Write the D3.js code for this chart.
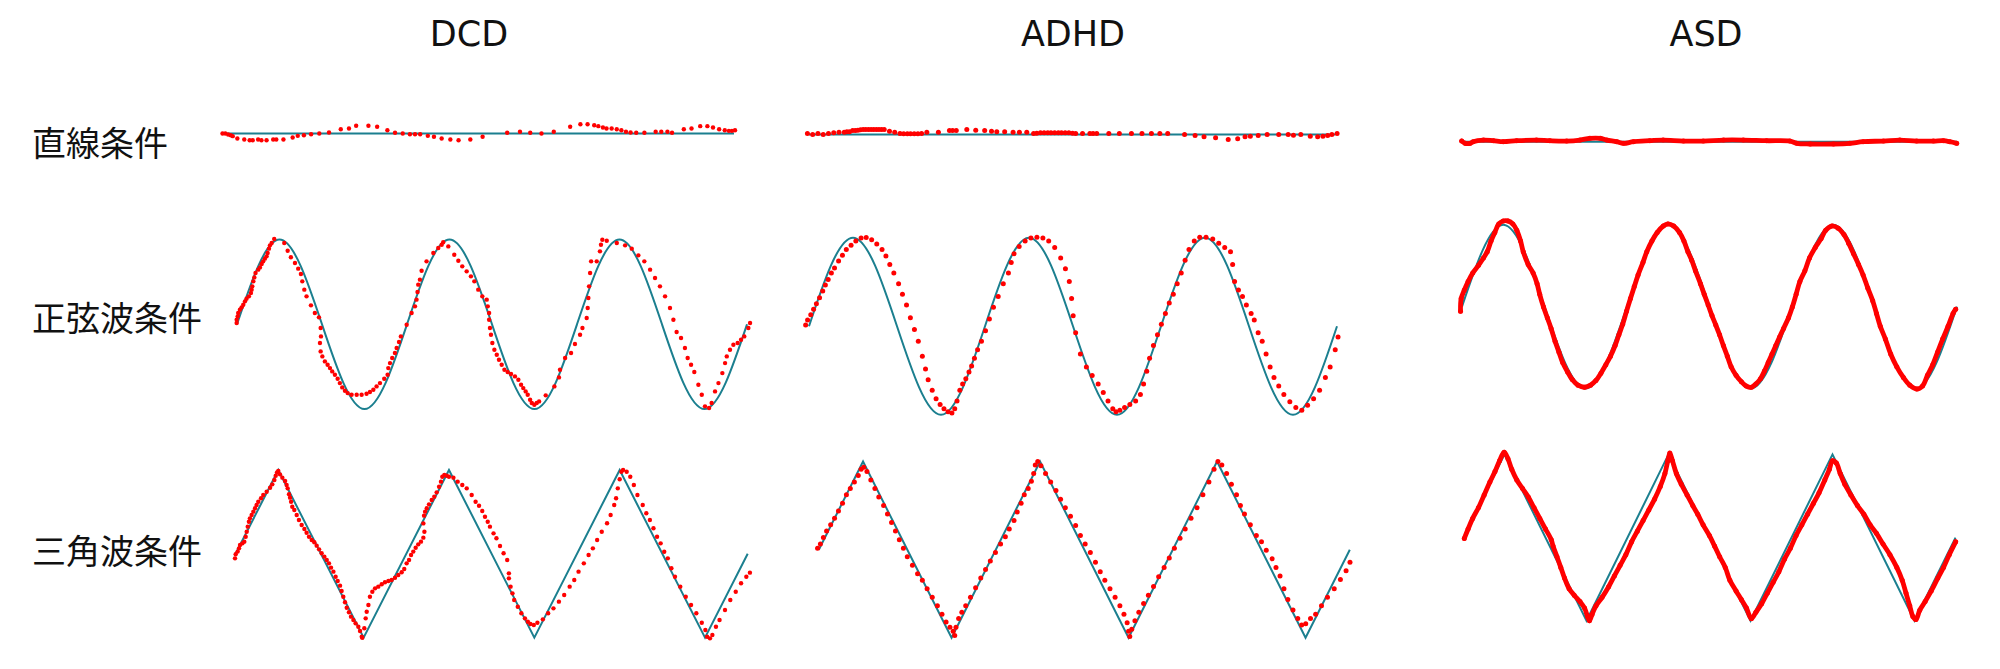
<!DOCTYPE html>
<html><head><meta charset="utf-8">
<script src="https://cdn.jsdelivr.net/npm/d3@7"></script>
<style>html,body{margin:0;padding:0;background:#fff;}svg{display:block;}</style>
</head><body>
<svg id="chart" width="2000" height="669"></svg>
<script>
// ---------- categories ----------
const groups = ["DCD", "ADHD", "ASD"];
const conditions = ["直線条件", "正弦波条件", "三角波条件"];
const conditionKeys = ["line", "sine", "tri"];

// ---------- reference stimuli (key points: x in % of period*100, y in % amplitude) ----------
const lineRef = [[0, 0], [100, 0]];
const sineRef = [[0,0],[25,100],[50,0],[75,-100],[100,0],[125,100],[150,0],[175,-100],[200,0],[225,100],[250,0],[275,-100],[300,0]];
const triRef = [[0,0],[25,100],[75,-100],[125,100],[175,-100],[225,100],[275,-100],[300,0]];

// ---------- traced responses ----------
const dcdLine = [[0.1,0],[0.65,0],[1.2,-1.2],[1.7,-2],[2.1,-3.1],[3,-5.9],[4.35,-7.1],[5.4,-7.9],[6,-7.9],[7.05,-7.1],[7.7,-7.9],[8.7,-7.9],[10,-7.1],[10.6,-7.1],[12,-7.1],[13.8,-4.7],[14.8,-2.8],[16,-2],[17.4,-0.8],[19,0],[20.9,1.2],[23.2,5.1],[24.8,5.9],[26.2,9.1],[28.6,9.1],[30.3,7.9],[32.3,3.9],[33.8,0.8],[35.3,0],[36.7,-0.8],[37.7,-0.8],[38.7,-0.8],[40.2,-2.8],[41.4,-3.9],[42.9,-5.9],[44.6,-7.1],[46.2,-7.9],[48.5,-7.1],[50.9,-3.9],[55.7,0.8],[58.2,2],[60.2,0.8],[62.4,0],[64.8,2],[68,7.9],[70,11],[71.4,11],[72.7,9.8],[73.5,8.7],[74.4,7.1],[75.1,5.9],[76.1,5.9],[77.1,5.1],[78,3.9],[78.9,2],[79.8,1.2],[80.9,0.8],[82.5,0.8],[84.7,2],[85.8,2],[87,2],[87.9,0.8],[90.2,5.1],[91.7,5.9],[93.4,8.7],[94.8,8.7],[95.9,7.1],[97.1,5.1],[98.2,3.9],[99,3.1],[99.6,3.1],[100.2,3.9]];

const dcdSine = [[-0.2,1.5],[-0.2,5.4],[0.4,9.4],[0.7,13.3],[1.7,17.2],[2.7,20],[3.7,23.1],[4.7,27.1],[5.6,30.2],[7,33],[8.2,36.9],[8.6,40.9],[9,44.8],[9.6,50.7],[10.2,55.4],[10.9,60.6],[12.5,64.5],[13.5,67.2],[14.5,71.2],[15.4,74.3],[16.4,77.5],[17.4,80.2],[18,84.2],[18.8,89.3],[19.4,93.2],[20.4,96],[21.9,100.7],
[27.8,96],[29.8,86.9],[31.7,79.1],[34.1,72.4],[36,65.7],[37.6,59.4],[38.4,50.7],[39.6,40.9],[40.9,33],[43.5,22.4],[45.8,13.3],[48.2,8.2],[49.2,-4.4],[49.4,-14.3],[48.8,-22.1],[49.2,-32],[50.2,-37.9],[51.7,-43.8],[53.3,-47.7],[54.7,-51.7],[56,-55.6],[57.6,-59.5],[59.2,-64.2],[60.5,-69.4],[61.9,-74.5],[63.5,-78.4],[65.1,-81.2],[67.4,-83.2],[70.4,-83.2],[73.3,-83.2],[76.2,-82],[78.2,-80],[80.2,-77.2],[82.1,-73.3],[84.1,-69.4],[86.6,-64.2],[88.6,-59.5],[89,-51.7],[90,-45.8],[91.3,-39.8],[92.9,-33.9],[93.9,-28],[95.3,-20.9],[96.4,-14.3],[99.8,-0.5],[102.7,13.3],[104.7,21.2],[105.6,29.1],[106.2,38.1],[106.6,46.8],[107.6,52.7],[108.6,63.3],[111.5,74.3],[115.5,84.2],[118.4,90.1],[120.4,94],[121.3,96.8],[124.3,92],[127.8,82.2],[130.2,75.1],[132.5,68.4],[135.1,62.5],[137.6,56.6],[139.6,50.7],[141.9,40.9],[144.3,33],
[146.9,29.1],[147.5,21.2],[148.3,13.3],[148.3,5.4],[148.8,-4.4],[149.4,-12.3],[150.2,-22.1],[151.4,-30],[152.8,-35.9],[154.1,-41.8],[155.7,-47.7],[157.3,-53.6],[159.2,-56.4],[161.2,-58.7],[163.5,-61.5],[165.5,-65.4],[167.1,-71.3],[168.4,-75.3],[169.8,-79.2],[171,-83.2],[172.4,-89.1],[173.4,-93],[174.9,-95],[176.3,-93],[177.7,-91],[181.6,-83.9],[186.7,-73.3],[189.4,-62.7],[190,-53.6],[193,-39.8],[196.5,-33.9],[198.8,-23.3],[201.8,-12.3],[203.2,-4.4],[205.7,7.4],[206.3,19.2],[206.7,31],[207.1,44.8],[207.7,60.6],[208.3,74.3],[211.6,74.3],[213.5,86.1],[214.1,94],[214.9,99.9],[217.5,98.7],[223.4,96],[228.3,93.2],[232.2,89.3],[236.1,81.4],[239.6,74.3],[243,64.5],[245.9,54.6],[248.8,44.8],[251.8,33],[254.7,19.2],[256.7,5.4],[258.6,-9.1],[261.2,-16.2],[263.5,-28],[265.1,-39.8],[267.1,-47.7],[269,-56.4],[271.4,-71.3],[273.4,-83.2],[275.3,-96.9],[277.7,-98.9],[279.2,-93],[281.2,-79.2],[283.2,-69.4],[285.5,-57.6],[287.1,-45.8],[288.1,-37.9],[290,-30],[292,-24.1],[294.5,-22.1],[296.5,-18.2],[298.4,-14.3],[300.8,-4.4],[301.8,1.5]];

const dcdTri = [[-0.35,-5.4],[0.04,-0.6],[1.2,2.6],[2,6.5],[2.6,10.5],[4,12.5],[5.1,14.5],[5.9,20.4],[6.5,26.4],[7.1,32.4],[7.8,38.3],[8.4,42.3],[9.4,46.3],[10.4,50.3],[11.4,54.3],[12.3,58.2],[13.3,62.2],[14.9,66.2],[16.2,70.2],[18.2,74.1],[20.2,78.9],[21.5,82.9],[22.7,88.1],[23.5,93.2],[24.3,97.2],[25,98.8],[26,94.8],[27.4,90.9],[29,86.9],[29.9,82.1],[30.5,78.1],[31.3,71],[31.9,67],[32.5,62.2],[33.2,56.2],[34.4,52.3],[35.8,46.3],[37.1,40.3],[38.7,34.4],[40.3,29.6],[41.6,25.2],[43,20.4],[44.6,16.5],[46.1,13.7],[47.5,9.7],[48.9,5.3],[50.4,0.6],[52,-3.4],[53.4,-7.4],[54.7,-11.4],[55.9,-16.5],[57.3,-21.3],[58.6,-27.3],[59.8,-32.5],[61.2,-38],[62.1,-44.4],[63.1,-51.2],[64.1,-57.9],[65.1,-64.3],[66.4,-69.8],[67.6,-75],[69,-79],[70.3,-83],[71.9,-87],[72.9,-92.1],[73.9,-98.9],[74.2,-100.1],[75.4,-88.9],[76.2,-77],[76.8,-69.1],[77.8,-61.1],[78.7,-51.2],[80.1,-45.2],[81.7,-41.2],[83.6,-39.2],[85.6,-36.4],[87.5,-34],[89.5,-32.5],[91.4,-31.3],[93.4,-28.5],[95.3,-25.3],[97.3,-22.1],[98.8,-18.1],[100.2,-11.4],[101.6,-7.4],[102.8,-1.4],[104.1,2.6],[105.5,7.3],[107,11.3],[108.6,14.5],[110,19.3],[110.6,26.4],[110,36.3],[110.4,45.5],[111,50.3],[112,54.3],[113.3,59],[114.9,64.2],[116.4,68.2],[117.8,73.3],[119.2,80.1],[120.3,86.1],[121.1,92],[122.3,94],[123.7,93.2],[125,92],[127.6,90.9],[130.1,86.1],[132.8,82.1],[135.4,78.1],[138.3,70.2],[140.6,62.2],[142.6,57.4],[144.5,51.1],[146.1,44.3],[147.7,38.3],[149,32.4],
[151.1,24.4],[152.8,18.5],[154.9,9.3],[157,0.6],[159.1,-7.4],[160.1,-23.3],[160.1,-29.3],[161.1,-39.2],[162.2,-47.2],[163.2,-55.1],[165.3,-63.1],[167.4,-71],[169.5,-77],[171.2,-81],[172.7,-83.8],[174.7,-85],[176.8,-82.2],[180,-78.2],[183.1,-71],[186.2,-65.1],[189.4,-57.1],[192.5,-49.2],[195.7,-39.2],[198.4,-31.3],[200.9,-21.3],[204,-11.4],[206.8,-1.4],[209.3,6.5],[211.8,16.5],[214.5,26.4],[217.6,36.4],[219.7,46.3],[221.8,58.2],[222.9,66.2],[223.9,78.1],[225,88.9],[226,98],[227,100],[229.1,98],[231.2,92],[233.3,82.1],[235.4,70.2],[238.5,58.2],[240.6,48.3],[242.7,40.3],[244.8,30.4],[246.9,20.4],[249,12.5],[251.1,2.5],[253.2,-5.4],[255.3,-17.3],[257.4,-27.3],[260.5,-39.2],[263.7,-51.2],[266.8,-61.1],[269.9,-71],[273.1,-82.2],[275.2,-90.9],[276.2,-98.9],[277.9,-100.9],[279.3,-96.9],[281.4,-87],[283.5,-79],[286.7,-67.1],[289.8,-55.1],[293,-45.2],[296.1,-35.2],[299.2,-27.3],[301.3,-22.5]];

const adhdLine = [[-0.3,1.1],[0.7,0],[1.7,1.1],[2.7,0],[3.7,1.1],[4.7,1.9],[5.7,2.6],[6.7,2.6],[7.2,3],[7.7,3],[8.3,4.5],[8.8,4.5],[9.3,4.9],[9.8,5.3],[10.3,5.6],[10.8,5.6],[11.3,5.6],[11.8,5.6],[12.3,5.6],[12.8,5.6],[13.3,5.6],[13.8,5.6],[14.3,5.6],[15.3,3.8],[16.3,2.6],[17.3,1.1],[18,0.8],[18.7,0.8],[19.3,0.8],[20,0.8],[20.7,0.8],[21.4,1.1],[22.4,2.6],[24.6,2.6],[26.7,4.5],[27.3,4.5],[28,4.5],[30,5.6],[31.7,4.9],[33.4,4.5],[34.7,3.8],[35.7,3],[37.2,3],[38.8,2.6],[40,2.6],[41.4,2.6],[42.7,1.1],[43.3,1.5],[44,1.9],[44.7,1.9],[45.4,1.9],[46,1.9],[46.7,1.9],[47.4,1.9],[48,1.9],[48.7,1.9],[49.4,1.9],[50.1,1.5],[50.7,1.1],[52,1.1],[53.4,1.1],[54,1.1],[54.7,1.1],[57,1.1],[59,1.1],[61.3,1.1],[63.3,1.1],[65.1,1.1],[66.7,1.1],[68.2,1.1],[71.4,0],[73.4,-1.1],[75.1,-2.6],[77.3,-3.8],[79.7,-5.6],[81.5,-4.9],[82.9,-2.6],[83.9,-1.9],[85.4,-1.1],[87.1,0],[89.3,0],[91.1,0],[92.1,-0.8],[93.5,0],[95.3,-1.9],[96.7,-2.6],[97.7,-1.9],[98.6,-1.1],[99.4,0],[100.4,1.1]];

const adhdSine = [[-1.9,1.3],[-0.8,7],[1,12.8],[2.6,19.1],[4.2,25.4],[6,32.1],[7.8,39.9],[9.3,46.6],[10.9,52.8],[12.7,60.1],[14.5,65.9],[16.8,73.6],[19,80.3],[21.2,86.6],[23.9,91.4],[26.6,96.2],[29.6,99.6],[32.5,100.1],[35.6,97.7],[38.5,92.9],[41.5,86.6],[43.7,79.4],[45.9,69.7],[48.2,60.1],[50.9,48],[53.1,36],[55.4,23.9],[57.6,9.5],[59.9,-3.6],[62.1,-17.1],[64.4,-33.9],[66.2,-48.4],[67.7,-60.4],[70,-72.5],[72.2,-82.1],[74.5,-88.4],[76.7,-93.2],[79,-96.6],[81.2,-98],[82.8,-93.2],[84.1,-84.6],[85.7,-72.5],[87.3,-65.3],[89.1,-59.5],[90.9,-51.8],[92.4,-45],[94,-36.3],[95.8,-26.7],[98,-17.1],[100.3,-5],[102.5,8],[104.8,21.5],[107.5,33.6],[110.4,48],[113.3,60.1],[114.9,72.1],[116.5,81.8],[119.4,90],[122.8,96.2],[126.1,99.6],[129.5,100.6],[132.9,99.6],[136.2,96.2],[139.6,89],[143,77],[145.7,64.9],[147.9,50.4],[149.2,31.2],[150.1,11.9],[151.5,-7.4],[154.2,-31.5],[157.6,-46],[160.9,-55.6],[164.3,-65.3],[167.2,-74.9],[169.9,-84.6],[172.6,-93.2],[174.4,-96.6],[176.6,-95.1],[179.3,-91.8],[182.3,-88.4],[185.6,-84.6],[188.3,-77.3],[190.1,-65.3],[191.9,-50.8],[193.5,-36.3],[195.7,-21.9],[198,-9.8],[200.2,2.2],[202.5,14.3],[204.7,26.3],[207,36],[209.2,48],[211.5,60.1],[213.7,74.5],[215.9,86.6],[218.9,96.2],[222,100.6],[225.6,100.6],[229.4,98.6],[232.8,93.8],[236.2,89],[239.5,84.2],[240.7,69.7],[241.8,50.4],[244,40.8],[246.3,33.6],[248.5,23.9],[251.2,14.3],[253,7],[255.2,-7.4],[257.5,-17.1],[259.7,-31.5],[262,-46],[264.2,-58],[266.9,-67.7],[269.8,-77.3],[273.2,-85.5],[276.6,-91.8],[280,-95.1],[283.3,-89.4],[286.7,-82.1],[290.1,-72.5],[293.4,-58],[296.1,-46],[299,-26.7],[300.6,-12.2]];

const adhdTri = [[-0.7,1.7],[0.9,6.6],[2.6,13.8],[4.4,21.1],[6.7,28.4],[8.9,35.6],[11.1,43.9],[13.4,52.6],[15.6,62.3],[17.8,69.5],[20.1,76.8],[22.3,84.1],[23.9,91.3],[25.4,93.7],[27.2,88.9],[29.4,79.2],[31.7,69.5],[33.9,59.8],[36.6,50.2],[38.8,40.5],[41.1,30.8],[43.3,21.1],[45.5,11.4],[47.8,1.7],[50,-8],[52.9,-17.6],[55.8,-27.3],[58.5,-34.6],[61.2,-44.3],[64.1,-54],[67,-63.7],[69.6,-73.3],[71.9,-82.1],[74.1,-87.9],[75.9,-92.7],[76.8,-97.5],[77.5,-87.9],[79,-78.2],[80.8,-70.9],[83,-63.7],[85.7,-54],[88.6,-43.3],[91.5,-32.2],[94.2,-22.5],[96.9,-12.8],[99.8,-3.1],[102.7,6.6],[105.4,14.8],[107.6,23.5],[110.3,33.2],[112.1,42.9],[114.3,52.6],[116.1,62.3],[118.3,69.5],[120.1,77.7],[121.4,86.5],[122.3,96.1],[123.7,100],[125.5,95.2],[128.1,86.5],[131,76.8],[134,67.1],[136.6,57.4],[139.3,47.7],[142.2,38],[145.1,27.4],[147.8,16.2],[150.5,6.6],[153.4,-3.1],[156.3,-14.3],[159,-24.9],[161.6,-34.6],[164.5,-44.3],[167.4,-54],[170.1,-63.7],[172.4,-73.3],[174.2,-83],[175,-92.7],[175.7,-98.5],[176.8,-90.3],[178.6,-80.6],[180.8,-70.9],[183.5,-61.2],[186.2,-51.6],[189.1,-41.9],[192,-30.7],[195.1,-20.1],[198,-9.4],[200.9,1.7],[204.1,12.9],[207,23.5],[210.3,35.6],[213.7,47.7],[217,62.3],[220.4,76.8],[223.3,91.3],[225.5,100],[227.7,96.1],[230.4,86.5],[233.1,74.4],[236,62.3],[238.2,50.2],[240.5,40.5],[243.8,28.4],[247.2,16.2],[250.1,9],[252.8,-0.7],[256.1,-10.4],[258.3,-20.1],[260.6,-29.8],[262.8,-44.3],[265,-56.4],[267.9,-68.5],[270.6,-78.2],[272.8,-85.5],[275.1,-84],[277.8,-78.2],[280.7,-73.3],[284,-63.7],[287.4,-54],[291.2,-44.3],[294.7,-33.7],[297.9,-24],[300.1,-14.3]];

const asdLine = [[0,0.8],[0.7,-2],[1.7,-2],[2.3,0],[4.4,2],[6.4,1.2],[8.4,0],[11.1,1.2],[15.1,2],[17.8,1.2],[21.2,0.8],[23.9,2],[25.9,4.1],[28,4.1],[29.3,2],[31.3,0],[32.7,-2],[34.7,0],[38,1.2],[40.7,2],[44.8,0.8],[48.8,0.8],[52.9,2],[56.9,2],[61.6,1.2],[66.3,0.8],[67.7,-2],[70.4,-2.8],[75.1,-2.8],[78.4,-2],[81.1,0],[85.2,0.8],[88.5,2],[91.9,0.8],[95.3,0.8],[97.3,1.2],[98.6,0],[100,-2]];

const asdSine = [[-0.9,-5.8],[-0.5,9.8],[1.4,20.2],[3.7,30.7],[6.5,41],[10,50.4],[13,59.3],[15.3,67.1],[17.6,80.1],[19.9,90.5],[22.3,101],[25,104.6],[27.8,104.6],[30.8,101],[33.2,93.1],[35.5,80.1],[37.1,67.1],[40.1,51.5],[43.1,41],[45.5,28],[47.1,15],[49.4,-0.6],[51.7,-13.6],[54,-26.6],[56.4,-42.3],[58.7,-55.3],[61,-68.3],[64,-79.8],[66.8,-89.1],[70.3,-95.9],[74.2,-98.5],[77.9,-95.9],[81.2,-90.2],[84.2,-81.3],[87.2,-70.9],[90,-60.5],[92.8,-47.5],[95.1,-34.4],[97.4,-21.4],[99.7,-5.8],[102.1,9.8],[104.4,24.4],[106.7,38.5],[109.7,54.1],[112,67.1],[115.1,80.1],[118.3,90.5],[122,98.4],[124.8,101],[128.3,98.4],[131.8,90.5],[134.5,80.1],[136.9,67.1],[139.2,56.7],[141.5,43.7],[144.5,28],[146.8,15],[149.2,2],[151.5,-11],[153.8,-22.5],[156.1,-34.4],[158.4,-47.5],[160.8,-60.5],[163.1,-73.5],[166.1,-83.9],[169.3,-91.7],[172.3,-97],[175.4,-98.5],[178.1,-94.4],[180.9,-88.1],[183.3,-78.7],[185.6,-68.3],[187.9,-57.9],[190.2,-47.5],[192.5,-37.1],[194.9,-26.6],[197.9,-13.6],[200.2,-0.6],[202.5,15],[204.8,30.7],[207.8,43.7],[210.6,59.3],[214.1,72.3],[217.6,82.7],[220.4,93.1],[224.1,98.4],[228,95.8],[231.5,87.9],[234.3,77.5],[237.3,64.5],[240.3,51.5],[243.1,38.5],[245.9,22.8],[248.9,7.2],[251.2,-8.4],[253.5,-24],[256.6,-39.7],[259.8,-57.9],[263.5,-73.5],[267.5,-86.5],[271.4,-95.9],[275.6,-100.6],[279.1,-97],[282.1,-83.9],[285.3,-70.9],[288.3,-55.3],[291.3,-39.7],[294.6,-24],[297.6,-8.4],[299.2,-3.2]];

const asdTri = [[0.5,-1],[2.8,10.3],[5.6,23.1],[9.1,35.9],[12.6,51.3],[16.1,66.8],[19.2,79.5],[22,92.4],[24.8,102.6],[27.1,94.9],[29.4,82.1],[32.5,69.3],[36,59],[39.5,48.8],[43,35.9],[46.5,23.1],[50,10.3],[53.5,-2.5],[54.6,-10.2],[57,-23],[59.3,-35.8],[61.6,-48.7],[64.4,-61.5],[67.5,-69.2],[71,-76.9],[73.8,-84.6],[75.6,-94.8],[76.8,-100],[78.4,-92.3],[80.8,-82],[84.5,-71.8],[88.5,-59],[92,-46.1],[95.5,-33.3],[99,-20.5],[102.5,-5.1],[106,7.7],[109.5,20.5],[113,33.3],[116.5,46.2],[120,61.5],[122.8,76.9],[124.6,92.4],[125.8,101.6],[127.4,92.4],[129.8,76.9],[132.8,64.1],[136.3,51.3],[139.8,38.5],[142.8,28.2],[146.1,15.4],[149.9,2.6],[153.1,-10.2],[156.2,-23],[159.6,-35.8],[162.4,-51.3],[166.2,-64.1],[169.4,-74.3],[172.5,-84.6],[175.5,-97.4],[178.3,-89.7],[181.8,-79.5],[185.3,-66.6],[188.8,-53.8],[192.3,-41],[195.8,-25.6],[199.3,-12.8],[202.8,2.6],[206.3,15.4],[209.8,28.2],[213.3,41],[216.8,53.8],[220.3,69.3],[223.1,82.1],[225,92.4],[227.3,89.8],[229.7,76.9],[232.5,64.1],[236.2,51.3],[240.2,38.5],[244.1,28.2],[247.9,15.4],[251.8,5.1],[255.8,-7.7],[260,-20.5],[264.2,-35.8],[267.5,-51.3],[269.8,-66.6],[272.1,-82],[274,-94.8],[275.9,-98.5],[278.2,-87.2],[281.5,-76.9],[285.2,-64.1],[289.2,-48.7],[292.7,-35.8],[296.2,-20.5],[300.1,-5.1]];

// ---------- assemble (library table) ----------
const traces = {
  DCD:  {line: dcdLine,  sine: dcdSine,  tri: dcdTri},
  ADHD: {line: adhdLine, sine: adhdSine, tri: adhdTri},
  ASD:  {line: asdLine,  sine: asdSine,  tri: asdTri}
};
const refs = {line: lineRef, sine: sineRef, tri: triRef};
const xDomains = {line: [0, 100], sine: [0, 300], tri: [0, 300]};

// ---------- layout (pixels) ----------
const layout = {
  DCD:  {line: {x: [222, 734],       yc: 133.5, amp: 84.7},
         sine: {x: [237, 747],       yc: 324.3, amp: 84.7},
         tri:  {x: [235.6, 747.7],   yc: 553.8, amp: 83.8}},
  ADHD: {line: {x: [809, 1335],      yc: 134.5, amp: 88.5},
         sine: {x: [809, 1337],      yc: 326.2, amp: 88.5},
         tri:  {x: [818.8, 1349.8],  yc: 549.7, amp: 88.1}},
  ASD:  {line: {x: [1461.7, 1956.7], yc: 141.7, amp: 81.9},
         sine: {x: [1462, 1957],     yc: 306.6, amp: 81.9},
         tri:  {x: [1463.5, 1955.5], yc: 537.6, amp: 83.2}}
};
const titleX = {DCD: 469, ADHD: 1073, ASD: 1706};
const rowLabelY = [141, 316, 549];
const dotRadius = {DCD: 2.2, ADHD: 2.5, ASD: 2.5};

const TEAL = "#1b7f8f";
const RED = "#ff0000";

const svg = d3.select("#chart");
svg.append("rect").attr("width", 2000).attr("height", 669).attr("fill", "#fff");

// titles
svg.selectAll("text.title").data(groups).join("text")
  .attr("class", "title")
  .attr("x", d => titleX[d]).attr("y", 34)
  .attr("text-anchor", "middle").attr("dominant-baseline", "central")
  .attr("font-family", "'DejaVu Sans', Verdana, sans-serif")
  .attr("font-size", 35).attr("fill", "#111")
  .text(d => d);

// row labels
svg.selectAll("text.row").data(conditions).join("text")
  .attr("class", "row")
  .attr("x", 32).attr("y", (d, i) => rowLabelY[i])
  .attr("dominant-baseline", "central")
  .attr("font-family", "'Noto Sans CJK JP', 'Noto Sans CJK SC', sans-serif")
  .attr("font-size", 34).attr("fill", "#111")
  .text(d => d);

groups.forEach(g => {
  conditionKeys.forEach(c => {
    const L = layout[g][c];
    const x = d3.scaleLinear().domain(xDomains[c]).range(L.x);
    const y = d3.scaleLinear().domain([-100, 100]).range([L.yc + L.amp, L.yc - L.amp]);
    const panel = svg.append("g").attr("class", `panel ${g}-${c}`);

    const refLine = d3.line()
      .x(d => x(d[0])).y(d => y(d[1]))
      .curve(c === "sine" ? d3.curveNatural : d3.curveLinear);
    panel.append("path").datum(refs[c])
      .attr("d", refLine)
      .attr("fill", "none").attr("stroke", TEAL).attr("stroke-width", 2);

    const data = traces[g][c];
    if (g === "ASD") {
      panel.append("path").datum(data)
        .attr("d", d3.line().x(d => x(d[0])).y(d => y(d[1])).curve(d3.curveCatmullRom))
        .attr("fill", "none").attr("stroke", RED).attr("stroke-width", 4.8)
        .attr("stroke-linejoin", "round").attr("stroke-linecap", "round");
    }
    panel.selectAll("circle").data(data).join("circle")
      .attr("cx", d => x(d[0])).attr("cy", d => y(d[1]))
      .attr("r", dotRadius[g]).attr("fill", RED);
  });
});
</script>
</body></html>
